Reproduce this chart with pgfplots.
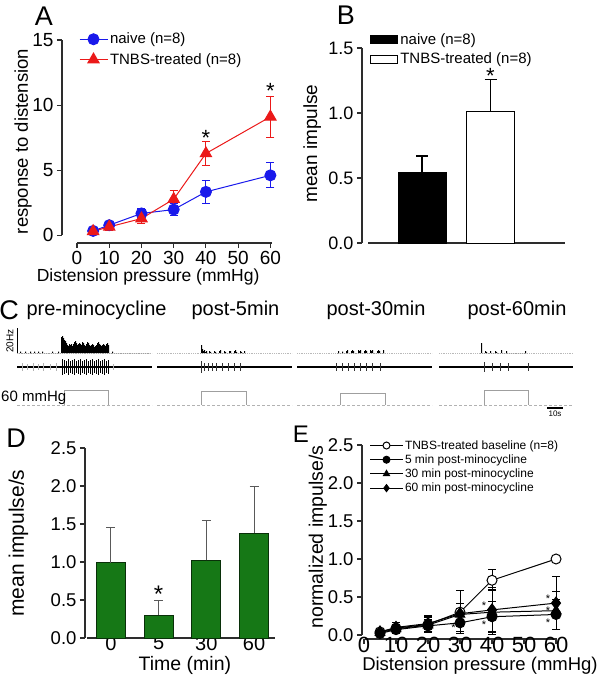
\documentclass[border=0pt]{standalone}
\usepackage{pgfplots}
\pgfplotsset{compat=1.18}
\usepackage{fontspec}
\setmainfont{Liberation Sans}
\definecolor{nblue}{RGB}{25,25,235}
\definecolor{tred}{RGB}{235,25,25}
\definecolor{dgreen}{RGB}{22,120,22}
\definecolor{axc}{RGB}{45,45,45}
\newcommand{\fs}[1]{\fontsize{#1}{#1}\selectfont}
\pgfplotsset{
  prism/.style={
    scale only axis, clip=false,
    axis x line*=bottom, axis y line*=left,
    axis line style={-, line width=1.1pt, axc},
    tick align=outside, major tick length=5pt,
    every tick/.style={line width=1.1pt, axc},
    /pgf/number format/assume math mode=true,
    legend cell align=left,
  },
  ebar/.style={error bars/.cd, y dir=both, y explicit,
    error bar style={line width=1pt, #1},
    error mark options={rotate=90, mark size=4pt, line width=1pt, #1}},
}
\begin{document}
\begin{tikzpicture}
\useasboundingbox (0pt,0pt) rectangle (600pt,-681pt);
% ---------------- panel letters and C titles
\node[font=\fs{27}, anchor=center] at (44pt,-16pt) {A};
\node[font=\fs{27}, anchor=center] at (346pt,-15pt) {B};
\node[font=\fs{27}, anchor=center] at (9pt,-310pt) {C};
\node[font=\fs{27}, anchor=center] at (16pt,-438pt) {D};
\node[font=\fs{24}, anchor=center] at (301pt,-434pt) {E};
\node[font=\fs{20}, anchor=west] at (23pt,-310pt) {pre-minocycline};
\node[font=\fs{20}, anchor=west] at (188pt,-310pt) {post-5min};
\node[font=\fs{20}, anchor=west] at (323pt,-310pt) {post-30min};
\node[font=\fs{20}, anchor=west] at (464pt,-310pt) {post-60min};

% ---------------- A
\begin{axis}[prism, at={(62pt,-243pt)}, anchor=south west,
  width=210pt, height=203pt,
  xmin=-4.66, xmax=60.5, ymin=-0.6, ymax=15,
  xtick={0,10,...,60}, ytick={0,5,10,15},
  y axis line style={shorten <=8pt}, x axis line style={shorten <=15pt},
  ticklabel style={font=\fs{19}},
  ylabel={response to distension},
  ylabel style={font=\fs{18.5}, at={(axis description cs:-0.185,0.5)}, anchor=center},
  xlabel={Distension pressure (mmHg)},
  xlabel style={font=\fs{17.5}, at={(axis description cs:0.41,-0.167)}, anchor=center},
  legend style={at={(axis description cs:0.08,1.045)}, anchor=north west, draw=none, fill=none,
    font=\fs{15}, row sep=4pt, inner sep=0pt},
  legend image code/.code={\draw[mark repeat=2, mark phase=2, #1] plot coordinates {(0pt,0pt) (14pt,0pt) (28pt,0pt)};},
]
\addplot[nblue, line width=1pt, mark=*, mark size=5.5pt, mark options={fill=nblue, draw=nblue}, ebar=nblue]
  coordinates {(5,0.33)+-(0,0.2) (10,0.77)+-(0,0.25) (20,1.67)+-(0,0.4) (30,1.97)+-(0,0.45) (40,3.33)+-(0,0.87) (60,4.6)+-(0,0.96)};
\addlegendentry{naive (n=8)}
\addplot[tred, line width=1pt, mark=triangle*, mark size=6.5pt, mark options={fill=tred, draw=tred}, ebar=tred]
  coordinates {(5,0.3)+-(0,0.2) (10,0.64)+-(0,0.25) (20,1.28)+-(0,0.4) (30,2.77)+-(0,0.7) (40,6.28)+-(0,0.95) (60,9.1)+-(0,1.57)};
\addlegendentry{TNBS-treated (n=8)}
\node[font=\fs{22}, inner sep=0pt] at (axis cs:40,7.5) {*};
\node[font=\fs{22}, inner sep=0pt] at (axis cs:60,11.05) {*};
\end{axis}

% ---------------- B
\begin{axis}[prism, at={(362pt,-243pt)}, anchor=south west,
  width=203pt, height=195pt,
  xmin=0, xmax=203, ymin=0, ymax=1.5,
  xtick=\empty, ytick={0,0.5,1,1.5},
  yticklabel style={/pgf/number format/.cd, fixed, fixed zerofill, precision=1},
  x axis line style={shorten <=6pt},
  ticklabel style={font=\fs{18}},
  ylabel={mean impulse},
  ylabel style={font=\fs{19}, at={(axis description cs:-0.245,0.51)}, anchor=center},
  ybar, bar width=48pt,
  legend style={at={(axis description cs:0.04,1.085)}, anchor=north west, draw=none, fill=none,
    font=\fs{15}, row sep=3pt, inner sep=0pt},
  legend image code/.code={\draw[#1] (0pt,-4pt) rectangle (27pt,4pt);},
]
\addplot[bar shift=0pt, fill=black, draw=black, line width=1pt,
  error bars/.cd, y dir=plus, y explicit, error bar style={line width=1.2pt, black},
  error mark options={rotate=90, mark size=6pt, line width=1.2pt, black}]
  coordinates {(60,0.54)+-(0,0.13)};
\addlegendentry{naive (n=8)}
\addplot[bar shift=0pt, fill=white, draw=black, line width=1pt,
  error bars/.cd, y dir=plus, y explicit, error bar style={line width=1.2pt, black},
  error mark options={rotate=90, mark size=6pt, line width=1.2pt, black}]
  coordinates {(128.5,1.01)+-(0,0.25)};
\addlegendentry{TNBS-treated (n=8)}
\node[font=\fs{22}, inner sep=0pt] at (axis cs:128.5,1.285) {*};
\end{axis}

% ---------------- C traces
\begin{axis}[at={(0pt,-421pt)}, anchor=south west, scale only axis,
  width=600pt, height=100pt, xmin=0, xmax=600, ymin=-68, ymax=32,
  hide axis, clip=false]
% dotted histogram baselines
\addplot[gray!55, densely dotted, line width=0.8pt] coordinates {(17,0) (152,0)};
\addplot[gray!55, densely dotted, line width=0.8pt] coordinates {(157,0) (292,0)};
\addplot[gray!55, densely dotted, line width=0.8pt] coordinates {(297,0) (432,0)};
\addplot[gray!55, densely dotted, line width=0.8pt] coordinates {(439,0) (573,0)};
% firing-rate histograms
\addplot[const plot, fill=black, draw=none] coordinates {
 (18,0) (20,1.5) (21,0) (25,1.5) (26,0) (30,1.5) (31,0) (34,1.5) (35,0) (38,1.5) (39,0)
 (42,1.5) (43,0) (52,1.5) (53,0) (58,1.5) (59,0)
 (61,16) (62,17) (63,15) (64,13) (65,12) (66,10) (67,8) (68,7) (69,9) (70,8) (71,9) (72,7)
 (73,9) (74,11) (75,12) (76,10) (77,8) (78,9) (79,10) (80,9) (81,8) (82,11) (83,10) (84,8)
 (85,7) (86,9) (87,11) (88,10) (89,8) (90,7) (91,8) (92,9) (93,8) (94,6) (95,7) (96,8)
 (97,10) (98,11) (99,9) (100,8) (101,7) (102,8) (103,9) (104,8) (105,7) (106,9) (107,10)
 (108,8) (109,0) (112,1.5) (113,0) (150,0)} \closedcycle;
\addplot[const plot, fill=black, draw=none] coordinates {
 (200,0) (201,8) (202,4) (203,2) (204,3) (205,1) (206,2) (207,0) (209,2) (210,1) (211,0)
 (214,2) (215,1) (216,0) (219,2) (220,3) (221,0) (224,2) (225,1) (226,0) (229,2) (230,2)
 (231,0) (234,2) (235,3) (236,1) (237,0) (240,2) (241,1) (242,0) (244,2) (245,0) (246,0)} \closedcycle;
\addplot[const plot, fill=black, draw=none] coordinates {
 (337,0) (338,2) (339,0) (342,1.5) (343,0) (346,2) (347,3) (348,0) (351,2) (352,3) (353,2)
 (354,0) (358,3) (359,2) (360,3) (361,0) (364,2) (365,3) (366,2) (367,0) (370,3) (371,2)
 (372,3) (373,0) (377,2) (378,3) (379,2) (380,0) (383,3) (384,0) (385,0)} \closedcycle;
\addplot[const plot, fill=black, draw=none] coordinates {
 (480,0) (481,10) (482,0) (485,2) (486,1) (487,0) (490,2) (491,0) (495,2) (496,1) (497,0)
 (501,3) (502,0) (506,2) (507,0) (525,2) (526,0) (527,0)} \closedcycle;
% raw traces
\addplot[black, line width=1.3pt] coordinates {(17,-14) (152,-14)};
\addplot[black, line width=1.3pt] coordinates {(157,-14) (292,-14)};
\addplot[black, line width=1.3pt] coordinates {(297,-14) (432,-14)};
\addplot[black, line width=1.3pt] coordinates {(439,-14) (573,-14)};
\addplot[gray!60, line width=0.6pt, unbounded coords=jump] coordinates {
 (22,-10) (22,-18) (23,nan) (27,-11) (27,-17) (28,nan) (33,-10) (33,-18) (34,nan)
 (38,-11) (38,-17) (39,nan) (43,-10) (43,-18) (44,nan) (50,-11) (50,-17) (51,nan)
 (56,-10) (56,-18) (57,nan) (113,-11) (113,-17)};
\addplot[black, line width=1pt, unbounded coords=jump] coordinates {
 (62,-6) (62,-22) (63,nan) (64,-7) (64,-21) (65,nan) (66,-8) (66,-20) (67,nan)
 (68,-6) (68,-22) (69,nan) (70,-8) (70,-20) (71,nan) (72,-7) (72,-21) (73,nan)
 (74,-6) (74,-22) (75,nan) (76,-8) (76,-20) (77,nan) (78,-7) (78,-21) (79,nan)
 (80,-6) (80,-22) (81,nan) (82,-8) (82,-20) (83,nan) (84,-7) (84,-21) (85,nan)
 (86,-6) (86,-22) (87,nan) (88,-8) (88,-20) (89,nan) (90,-7) (90,-21) (91,nan)
 (92,-6) (92,-22) (93,nan) (94,-8) (94,-20) (95,nan) (96,-7) (96,-21) (97,nan)
 (98,-6) (98,-22) (99,nan) (100,-8) (100,-20) (101,nan) (102,-7) (102,-21) (103,nan)
 (104,-6) (104,-22) (105,nan) (106,-8) (106,-20) (107,nan) (108,-7) (108,-21)};
\addplot[black!80, line width=0.7pt, unbounded coords=jump] coordinates {
 (201,-8) (201,-20) (202,nan) (204,-10) (204,-18) (205,nan) (208,-10) (208,-18) (209,nan)
 (212,-10) (212,-18) (213,nan) (216,-10) (216,-18) (217,nan) (222,-10) (222,-18) (223,nan)
 (228,-10) (228,-18) (229,nan) (234,-10) (234,-18) (235,nan) (240,-10) (240,-18) (241,nan)
 (336,-10) (336,-18) (337,nan) (342,-10) (342,-18) (343,nan) (348,-10) (348,-18) (349,nan)
 (354,-10) (354,-18) (355,nan) (360,-10) (360,-18) (361,nan) (366,-10) (366,-18) (367,nan)
 (372,-10) (372,-18) (373,nan) (380,-10) (380,-18) (381,nan)
 (484,-9) (484,-19) (485,nan) (492,-10) (492,-18) (493,nan) (500,-10) (500,-18) (501,nan)
 (508,-10) (508,-18) (509,nan) (528,-10) (528,-18)};
% pressure
\addplot[gray!60, densely dashed, line width=0.7pt] coordinates {(17,-52) (152,-52)};
\addplot[gray!60, densely dashed, line width=0.7pt] coordinates {(157,-52) (292,-52)};
\addplot[gray!60, densely dashed, line width=0.7pt] coordinates {(297,-52) (432,-52)};
\addplot[gray!60, densely dashed, line width=0.7pt] coordinates {(439,-52) (573,-52)};
\addplot[gray!75, line width=0.6pt] coordinates {(64,-52) (64,-37) (108,-37) (108,-52)};
\addplot[gray!75, line width=0.6pt] coordinates {(201,-52) (201,-38) (246,-38) (246,-52)};
\addplot[gray!75, line width=0.6pt] coordinates {(340,-52) (340,-40) (385,-40) (385,-52)};
\addplot[gray!75, line width=0.6pt] coordinates {(484,-52) (484,-37) (528,-37) (528,-52)};
% scale bars
\addplot[black, line width=1pt] coordinates {(17,0) (17,25)};
\addplot[black, line width=1.3pt] coordinates {(547,-55) (563,-55)};
\node[font=\fs{10}, rotate=90, anchor=center] at (axis cs:10,12) {20Hz};
\node[font=\fs{15}, anchor=west, inner sep=0pt] at (axis cs:1,-45) {60 mmHg};
\node[font=\fs{8}, anchor=center] at (axis cs:555,-61) {10s};
\end{axis}

% ---------------- D
\begin{axis}[prism, at={(85pt,-638pt)}, anchor=south west,
  width=190pt, height=190pt,
  xmin=-0.545, xmax=3.44, ymin=0, ymax=2.5,
  xtick={0,1,2,3}, xticklabels={0,5,30,60}, x tick style={draw=none},
  xticklabel style={font=\fs{20}, inner sep=0pt, yshift=7pt},
  ytick={0,0.5,...,2.5},
  yticklabel style={font=\fs{18.5}, /pgf/number format/.cd, fixed, fixed zerofill, precision=1},
  x axis line style={shorten <=2pt},
  ylabel={mean impulse/s},
  ylabel style={font=\fs{21}, at={(axis description cs:-0.35,0.5)}, anchor=center},
  xlabel={Time (min)},
  xlabel style={font=\fs{19.5}, at={(axis description cs:0.526,-0.142)}, anchor=center},
]
\addplot[ybar, bar width=29pt, bar shift=0pt, fill=dgreen, draw=black!60!dgreen, line width=1pt,
  error bars/.cd, y dir=plus, y explicit, error bar style={line width=1pt, black!65},
  error mark options={rotate=90, mark size=4.5pt, line width=1pt, black!65}]
  coordinates {(0,0.99)+-(0,0.47) (1,0.30)+-(0,0.19) (2,1.02)+-(0,0.53) (3,1.38)+-(0,0.61)};
\node[font=\fs{24}, inner sep=0pt] at (axis cs:1,0.58) {*};
\end{axis}

% ---------------- E
\begin{axis}[prism, at={(362pt,-639pt)}, anchor=south west,
  width=195pt, height=194pt,
  xmin=-0.625, xmax=60.3, ymin=-0.053, ymax=2.5,
  xtick={0,10,...,60}, ytick={0,0.5,...,2.5},
  xticklabel style={font=\fs{22}, inner sep=0pt, yshift=7pt},
  yticklabel style={font=\fs{18.5}, /pgf/number format/.cd, fixed, fixed zerofill, precision=1},
  y axis line style={shorten <=4pt}, x axis line style={shorten <=3pt},
  ylabel={normalized impulse/s},
  ylabel style={font=\fs{19.5}, at={(axis description cs:-0.226,0.526)}, anchor=center},
  xlabel={Distension pressure (mmHg)},
  xlabel style={font=\fs{18.5}, at={(axis description cs:0.605,-0.14)}, anchor=center},
  legend style={at={(axis description cs:0.04,1.035)}, anchor=north west, draw=none, fill=none,
    font=\fs{12}, row sep=0pt, inner sep=0pt},
  legend image code/.code={\draw[mark repeat=2, mark phase=2, #1] plot coordinates {(0pt,0pt) (16pt,0pt) (32pt,0pt)};},
  legend image post style={mark size=3.5pt},
]
\addplot[black, line width=1pt, mark=*, mark size=5pt, mark options={fill=white, draw=black}, ebar=black]
  coordinates {(5,0.04)+-(0,0.02) (10,0.09)+-(0,0.05) (20,0.14)+-(0,0.1) (30,0.3)+-(0,0.28) (40,0.72)+-(0,0.14) (60,1.0)+-(0,0)};
\addlegendentry{TNBS-treated baseline (n=8)}
\addplot[black, line width=1pt, mark=*, mark size=5pt, mark options={fill=black}, ebar=black]
  coordinates {(5,0.02)+-(0,0.02) (10,0.07)+-(0,0.05) (20,0.12)+-(0,0.08) (30,0.16)+-(0,0.12) (40,0.24)+-(0,0.2) (60,0.27)+-(0,0.2)};
\addlegendentry{5 min post-minocycline}
\addplot[black, line width=1pt, mark=triangle*, mark size=5.5pt, mark options={fill=black}, ebar=black]
  coordinates {(5,0.03)+-(0,0.02) (10,0.08)+-(0,0.06) (20,0.13)+-(0,0.1) (30,0.27)+-(0,0.15) (40,0.3)+-(0,0.3) (60,0.32)+-(0,0.25)};
\addlegendentry{30 min post-minocycline}
\addplot[black, line width=1pt, mark=diamond*, mark size=6pt, mark options={fill=black}, ebar=black]
  coordinates {(5,0.04)+-(0,0.03) (10,0.1)+-(0,0.07) (20,0.15)+-(0,0.1) (30,0.28)+-(0,0.14) (40,0.33)+-(0,0.3) (60,0.42)+-(0,0.35)};
\addlegendentry{60 min post-minocycline}
\node[font=\fs{11}, inner sep=0pt] at (axis cs:28,0.09) {*};
\node[font=\fs{11}, inner sep=0pt] at (axis cs:37.5,0.39) {*};
\node[font=\fs{11}, inner sep=0pt] at (axis cs:37.5,0.14) {*};
\node[font=\fs{11}, inner sep=0pt] at (axis cs:57.5,0.48) {*};
\node[font=\fs{11}, inner sep=0pt] at (axis cs:57.5,0.32) {*};
\node[font=\fs{11}, inner sep=0pt] at (axis cs:57.5,0.16) {*};
\end{axis}
\end{tikzpicture}
\end{document}
